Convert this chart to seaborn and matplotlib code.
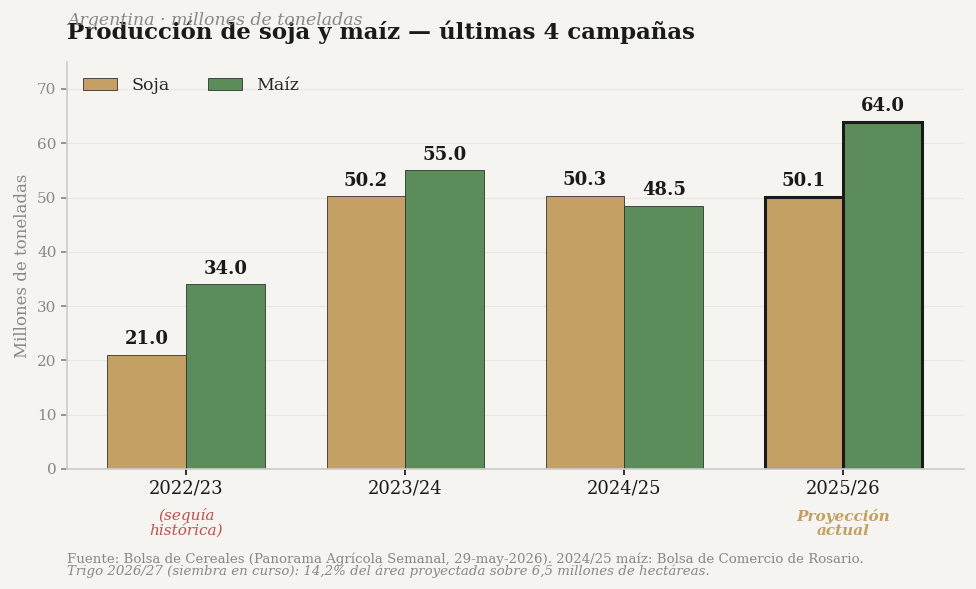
import matplotlib
matplotlib.use("Agg")
import matplotlib.pyplot as plt
import seaborn as sns
import pandas as pd

campaigns = ["2022/23", "2023/24", "2024/25", "2025/26"]
soja = [21.0, 50.2, 50.3, 50.1]
maiz = [34.0, 55.0, 48.5, 64.0]

bg = "#f5f4f0"
sns.set_theme(style="white")
plt.rcParams["font.family"] = ["DejaVu Serif"]

df = pd.DataFrame({
    "Campaña": campaigns * 2,
    "Valor": soja + maiz,
    "Cultivo": ["Soja"] * 4 + ["Maíz"] * 4,
})

fig = plt.figure(figsize=(9.76, 5.89), dpi=100, facecolor=bg)
ax = fig.add_axes([0.0686, 0.204, 0.919, 0.691])
ax.set_facecolor(bg)
sns.barplot(data=df, x="Campaña", y="Valor", hue="Cultivo", ax=ax,
            palette={"Soja": "#c4a065", "Maíz": "#5b8c5a"}, width=0.72,
            edgecolor="#333333", linewidth=0.6, saturation=1)

for cont in ax.containers:
    for i, bar in enumerate(cont):
        h = bar.get_height()
        if i == 3:
            bar.set_edgecolor("#1a1a1a")
            bar.set_linewidth(2.2)
        ax.text(bar.get_x() + bar.get_width() / 2, h + 1.2, f"{h:.1f}",
                ha="center", va="bottom", fontsize=13, fontweight="bold", color="#1a1a1a")

ax.set_xlim(-0.545, 3.55)
ax.set_ylim(0, 75)
ax.set_yticks(range(0, 80, 10))
ax.grid(axis="y", color="#e8e6e0", linewidth=0.8)
ax.set_axisbelow(True)
for s in ["top", "right"]:
    ax.spines[s].set_visible(False)
for s in ["left", "bottom"]:
    ax.spines[s].set_color("#cccccc")
ax.tick_params(axis="y", colors="#888888", labelsize=11, left=True, length=4)
ax.tick_params(axis="x", colors="#1a1a1a", labelsize=13, bottom=True, length=4)
for lbl in ax.get_yticklabels():
    lbl.set_color("#888888")
ax.set_xlabel("")
ax.set_ylabel("Millones de toneladas", color="#888888", fontsize=12)

ax.legend(loc="upper left", ncol=2, frameon=False, fontsize=12.5,
          handlelength=2.0, columnspacing=2.2)

ax.text(0, -10.0, "(sequía\nhistórica)", ha="center", va="center", fontsize=11,
        style="italic", color="#c0504d", linespacing=1.0)
ax.text(3, -10.0, "Proyección\nactual", ha="center", va="center", fontsize=11,
        style="italic", fontweight="bold", color="#c4a065", linespacing=1.0)

fig.text(0.0686, 0.946, "Producción de soja y maíz — últimas 4 campañas",
         fontsize=16.5, fontweight="bold", color="#1a1a1a", va="center")
fig.text(0.0686, 0.966, "Argentina · millones de toneladas", fontsize=12.5,
         style="italic", color="#888888", va="center")
fig.text(0.0686, 0.051, "Fuente: Bolsa de Cereales (Panorama Agrícola Semanal, 29-may-2026). 2024/25 maíz: Bolsa de Comercio de Rosario.",
         fontsize=9.6, color="#888888", va="center")
fig.text(0.0686, 0.030, "Trigo 2026/27 (siembra en curso): 14,2% del área proyectada sobre 6,5 millones de hectáreas.",
         fontsize=9.6, style="italic", color="#888888", va="center")

fig.savefig("out.png", dpi=100, facecolor=bg)
